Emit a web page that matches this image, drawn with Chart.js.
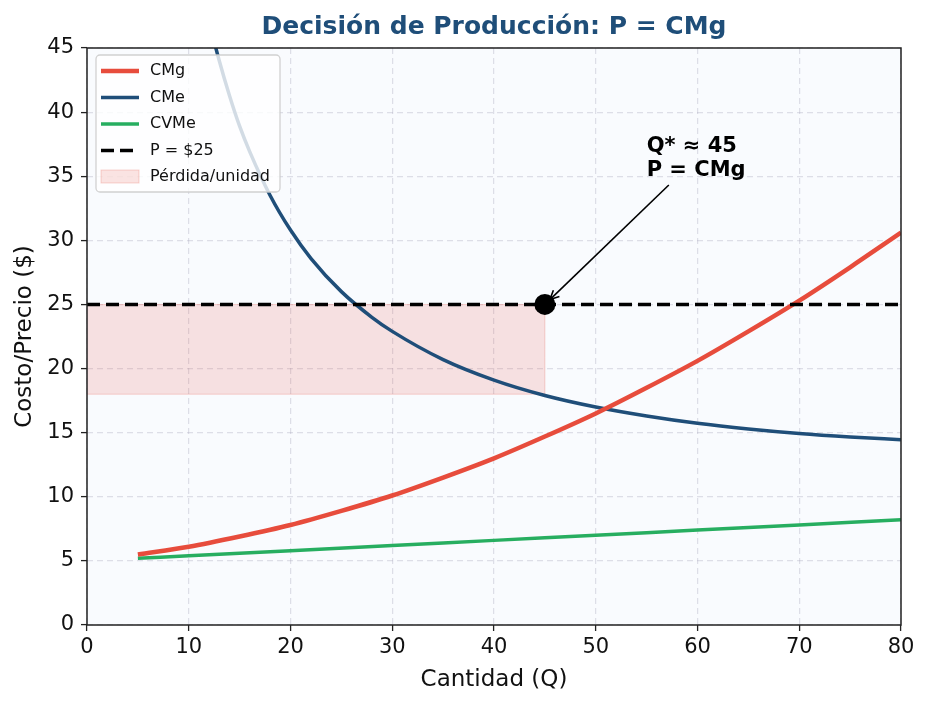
<!DOCTYPE html>
<html>
<head>
<meta charset="utf-8">
<script src="https://cdn.jsdelivr.net/npm/chart.js@4.4.1/dist/chart.umd.min.js"></script>
<style>
html, body { margin: 0; padding: 0; background: #fff; }
</style>
</head>
<body>
<canvas id="grafico" width="929" height="706"></canvas>
<script>
// Valores (Q = cantidad, valores en $)
const cmgQ = [5, 10, 15, 20, 25, 30, 35, 40, 45, 50, 55, 60, 65, 70, 75, 80]
const cmgVals = [5.5, 6.1, 6.9, 7.8, 8.9, 10.1, 11.5, 13.0, 14.7, 16.5, 18.5, 20.6, 22.9, 25.3, 27.9, 30.6]

const cmeQ = [11, 12, 13, 14, 15, 16, 18, 20, 22, 25, 28, 30, 35, 40, 45, 50, 55, 60, 65, 70, 75, 80]
const cmeVals = [50.9, 47.1, 44.0, 41.3, 38.9, 36.9, 33.5, 30.8, 28.6, 26.0, 24.0, 22.9, 20.7, 19.1, 17.9, 17.0, 16.3, 15.73, 15.29, 14.94, 14.67, 14.45]

const cvmeQ = [5, 10, 20, 30, 40, 50, 60, 70, 80]
const cvmeVals = [5.2, 5.4, 5.8, 6.2, 6.6, 7.0, 7.4, 7.8, 8.2]

const precioQ = [0, 80]
const precioVals = [25, 25]

// rectangulo de perdida por unidad (entre CMe y P en Q*)
const perdidaQ = [0, 45]
const perdidaTope = [25, 25]
const perdidaBase = [18, 18]
const perdidaLadoQ = [45, 45]
const perdidaLadoVals = [18, 25]

const qOptimo = [45]
const pOptimo = [25]

const titulo = 'Decisión de Producción: P = CMg'
const textoAnotacion = ['Q* ≈ 45', 'P = CMg']
const posAnotacion = [55, 35]

const fuente = 'DejaVu Sans'
const rojoPerdida = 'rgba(231, 76, 60, 0.15)'
const bordePerdida = 'rgba(231, 76, 60, 0.22)'

const puntos = (xs, ys) => xs.map((x, i) => ({ x: x, y: ys[i] }))

// fondo del area de trazado
const fondo = {
  id: 'fondo',
  beforeDraw(chart) {
    const { ctx, chartArea: a } = chart
    ctx.save()
    ctx.fillStyle = '#ffffff'
    ctx.fillRect(0, 0, chart.width, chart.height)
    ctx.fillStyle = '#f9fbfe'
    ctx.fillRect(a.left, a.top, a.right - a.left, a.bottom - a.top)
    ctx.restore()
  }
}

// titulo centrado sobre el area de trazado
const tituloPlugin = {
  id: 'tituloPlugin',
  afterDraw(chart) {
    const { ctx, chartArea: a } = chart
    ctx.save()
    ctx.font = 'bold 25px "' + fuente + '"'
    ctx.fillStyle = '#1f4e79'
    ctx.textAlign = 'center'
    ctx.textBaseline = 'middle'
    ctx.fillText(titulo, (a.left + a.right) / 2, a.top - 21)
    ctx.restore()
  }
}

// flecha y texto de Q*
const anotacion = {
  id: 'anotacion',
  afterDatasetsDraw(chart) {
    const { ctx } = chart
    const sx = chart.scales.x, sy = chart.scales.y
    const tx = sx.getPixelForValue(qOptimo[0])
    const ty = sy.getPixelForValue(pOptimo[0])
    const ax = sx.getPixelForValue(posAnotacion[0])
    const ay = sy.getPixelForValue(posAnotacion[1])
    ctx.save()
    ctx.font = 'bold 21px "' + fuente + '"'
    ctx.fillStyle = '#000'
    ctx.textBaseline = 'alphabetic'
    ctx.textAlign = 'left'
    const alto = 24
    let ancho = 0
    textoAnotacion.forEach((t, i) => {
      ctx.fillText(t, ax, ay - alto * (textoAnotacion.length - 1 - i))
      ancho = Math.max(ancho, ctx.measureText(t).width)
    })
    // caja del texto
    const top = ay - alto * (textoAnotacion.length - 1) - 17
    const bottom = ay + 6
    const cx = ax + ancho / 2, cy = (top + bottom) / 2
    const t = (bottom - cy) / (ty - cy)
    let x1 = cx + t * (tx - cx), y1 = bottom
    const len = Math.hypot(tx - x1, ty - y1)
    const ux = (tx - x1) / len, uy = (ty - y1) / len
    x1 += ux * 4; y1 += uy * 4
    const x2 = tx - ux * 7, y2 = ty - uy * 7
    ctx.strokeStyle = '#000'
    ctx.lineWidth = 1.6
    ctx.beginPath()
    ctx.moveTo(x1, y1)
    ctx.lineTo(x2, y2)
    ctx.stroke()
    const ang = Math.atan2(uy, ux)
    const cab = 10
    ctx.beginPath()
    ctx.moveTo(x2 - cab * Math.cos(ang - 0.45), y2 - cab * Math.sin(ang - 0.45))
    ctx.lineTo(x2, y2)
    ctx.lineTo(x2 - cab * Math.cos(ang + 0.45), y2 - cab * Math.sin(ang + 0.45))
    ctx.stroke()
    ctx.restore()
  }
}

// leyenda dentro del area de trazado
const leyenda = {
  id: 'leyenda',
  afterDatasetsDraw(chart) {
    const { ctx, chartArea: a } = chart
    const entradas = chart.data.datasets.filter(d => d.leyenda)
    const x0 = a.left + 9, y0 = a.top + 7
    const w = 184, h = 137
    ctx.save()
    ctx.beginPath()
    ctx.roundRect(x0, y0, w, h, 4)
    ctx.fillStyle = 'rgba(255, 255, 255, 0.8)'
    ctx.fill()
    ctx.strokeStyle = 'rgba(204, 204, 204, 0.9)'
    ctx.lineWidth = 1.3
    ctx.stroke()
    ctx.font = '16px "' + fuente + '"'
    ctx.textBaseline = 'middle'
    ctx.fillStyle = '#111'
    entradas.forEach((d, i) => {
      const y = y0 + 16 + i * 26.5
      if (d.leyenda === 'caja') {
        ctx.fillStyle = d.backgroundColor
        ctx.fillRect(x0 + 5, y - 7, 38, 13)
        ctx.strokeStyle = d.borderColor
        ctx.lineWidth = 1
        ctx.strokeRect(x0 + 5, y - 7, 38, 13)
      } else {
        ctx.strokeStyle = d.borderColor
        ctx.lineWidth = d.borderWidth
        ctx.setLineDash(d.borderDash || [])
        ctx.beginPath()
        ctx.moveTo(x0 + 5, y)
        ctx.lineTo(x0 + 43, y)
        ctx.stroke()
        ctx.setLineDash([])
      }
      ctx.fillStyle = '#111'
      ctx.fillText(d.label, x0 + 54, y)
    })
    ctx.restore()
  }
}

// marco negro alrededor
const marco = {
  id: 'marco',
  afterDraw(chart) {
    const { ctx, chartArea: a } = chart
    ctx.save()
    ctx.strokeStyle = '#222'
    ctx.lineWidth = 1.5
    ctx.strokeRect(a.left, a.top, a.right - a.left, a.bottom - a.top)
    ctx.restore()
  }
}

const lineaBase = { pointRadius: 0, fill: false, cubicInterpolationMode: 'monotone', tension: 0.4 }

const datos = {
  datasets: [
    { ...lineaBase, label: 'Q*', data: puntos(qOptimo, pOptimo), showLine: false,
      pointRadius: 10.5, pointBackgroundColor: '#000', pointBorderWidth: 0, order: 0 },
    { ...lineaBase, label: 'CMg', leyenda: 'linea', data: puntos(cmgQ, cmgVals),
      borderColor: '#e74c3c', borderWidth: 4.5, order: 2 },
    { ...lineaBase, label: 'CMe', leyenda: 'linea', data: puntos(cmeQ, cmeVals),
      borderColor: '#1f4e79', borderWidth: 3.5, order: 3 },
    { ...lineaBase, label: 'CVMe', leyenda: 'linea', data: puntos(cvmeQ, cvmeVals),
      borderColor: '#27ae60', borderWidth: 3.5, order: 4 },
    { ...lineaBase, label: 'P = $25', leyenda: 'linea', data: puntos(precioQ, precioVals),
      borderColor: '#000', borderWidth: 3.5, borderDash: [13, 6], order: 1 },
    { ...lineaBase, label: 'Pérdida/unidad', leyenda: 'caja', data: puntos(perdidaQ, perdidaTope),
      borderColor: bordePerdida, backgroundColor: rojoPerdida, borderWidth: 1, fill: '+1', order: 5 },
    { ...lineaBase, label: 'base', data: puntos(perdidaQ, perdidaBase),
      borderColor: bordePerdida, borderWidth: 1, order: 6 },
    { ...lineaBase, label: 'lado', data: puntos(perdidaLadoQ, perdidaLadoVals),
      borderColor: bordePerdida, borderWidth: 1, order: 6 }
  ]
}

const grid = {
  color: 'rgba(170, 170, 190, 0.35)',
  lineWidth: 1.2,
  drawTicks: true,
  tickLength: 6,
  tickColor: '#222',
  tickWidth: 1.3,
  tickBorderDash: []
}

const config = {
  type: 'line',
  data: datos,
  plugins: [fondo, anotacion, leyenda, marco, tituloPlugin],
  options: {
    responsive: false,
    animation: false,
    devicePixelRatio: 1,
    layout: { padding: { left: 0, right: 28, top: 48, bottom: 0 } },
    plugins: {
      legend: { display: false },
      tooltip: { enabled: false },
      title: { display: false }
    },
    scales: {
      x: {
        type: 'linear',
        min: 0, max: 80,
        ticks: { stepSize: 10, color: '#111', padding: 4, font: { family: fuente, size: 21 } },
        grid: grid,
        border: { display: false, dash: [6, 4] },
        title: { display: true, text: 'Cantidad (Q)', color: '#111',
          font: { family: fuente, size: 23 }, padding: { top: 0, bottom: 12 } },
        afterFit(scale) { scale.height = 81 }
      },
      y: {
        type: 'linear',
        min: 0, max: 45,
        ticks: { stepSize: 5, color: '#111', padding: 7, font: { family: fuente, size: 21 } },
        grid: grid,
        border: { display: false, dash: [6, 4] },
        title: { display: true, text: 'Costo/Precio ($)', color: '#111',
          font: { family: fuente, size: 23 }, padding: { top: 11, bottom: 0 } },
        afterFit(scale) { scale.width = 87 }
      }
    }
  }
}

const grafico = new Chart(document.getElementById('grafico'), config)
</script>
</body>
</html>
